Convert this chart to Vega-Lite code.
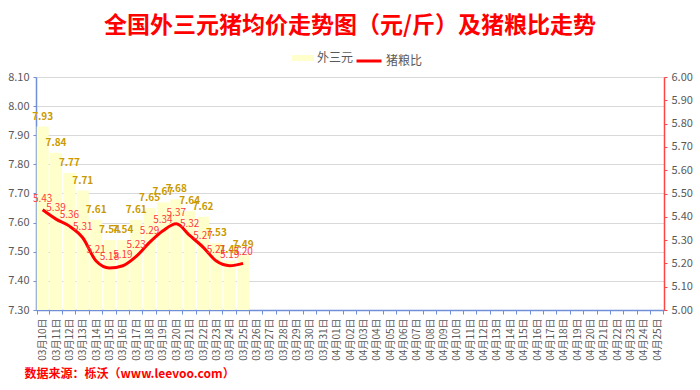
{
  "$schema": "https://vega.github.io/schema/vega-lite/v6.json",
  "width": 628,
  "height": 233,
  "autosize": {"type": "none"},
  "padding": {"left": 36, "top": 77, "right": 36, "bottom": 80},
  "background": "white",
  "config": {
    "font": "Noto Sans CJK SC",
    "view": {"stroke": null},
    "axis": {"labelColor": "#595959", "labelFont": "Noto Sans CJK SC"}
  },
  "title": {
    "text": "全国外三元猪均价走势图（元/斤）及猪粮比走势",
    "color": "#ff0000",
    "fontSize": 23,
    "fontWeight": "bold",
    "anchor": "middle",
    "frame": "group",
    "offset": 9
  },
  "data": {
    "values": [
      {"date": "03月10日", "price": 7.93, "ratio": 5.43, "s1": "外三元", "s2": "猪粮比"},
      {"date": "03月11日", "price": 7.84, "ratio": 5.39, "s1": "外三元", "s2": "猪粮比"},
      {"date": "03月12日", "price": 7.77, "ratio": 5.36, "s1": "外三元", "s2": "猪粮比"},
      {"date": "03月13日", "price": 7.71, "ratio": 5.31, "s1": "外三元", "s2": "猪粮比"},
      {"date": "03月14日", "price": 7.61, "ratio": 5.21, "s1": "外三元", "s2": "猪粮比"},
      {"date": "03月15日", "price": 7.54, "ratio": 5.18, "s1": "外三元", "s2": "猪粮比"},
      {"date": "03月16日", "price": 7.54, "ratio": 5.19, "s1": "外三元", "s2": "猪粮比"},
      {"date": "03月17日", "price": 7.61, "ratio": 5.23, "s1": "外三元", "s2": "猪粮比"},
      {"date": "03月18日", "price": 7.65, "ratio": 5.29, "s1": "外三元", "s2": "猪粮比"},
      {"date": "03月19日", "price": 7.67, "ratio": 5.34, "s1": "外三元", "s2": "猪粮比"},
      {"date": "03月20日", "price": 7.68, "ratio": 5.37, "s1": "外三元", "s2": "猪粮比"},
      {"date": "03月21日", "price": 7.64, "ratio": 5.32, "s1": "外三元", "s2": "猪粮比"},
      {"date": "03月22日", "price": 7.62, "ratio": 5.27, "s1": "外三元", "s2": "猪粮比"},
      {"date": "03月23日", "price": 7.53, "ratio": 5.21, "s1": "外三元", "s2": "猪粮比"},
      {"date": "03月24日", "price": 7.47, "ratio": 5.19, "s1": "外三元", "s2": "猪粮比"},
      {"date": "03月25日", "price": 7.49, "ratio": 5.20, "s1": "外三元", "s2": "猪粮比"}
    ]
  },
  "encoding": {
    "x": {
      "field": "date",
      "type": "ordinal",
      "sort": null,
      "scale": {
        "domain": ["03月10日","03月11日","03月12日","03月13日","03月14日","03月15日","03月16日","03月17日","03月18日","03月19日","03月20日","03月21日","03月22日","03月23日","03月24日","03月25日","03月26日","03月27日","03月28日","03月29日","03月30日","03月31日","04月01日","04月02日","04月03日","04月04日","04月05日","04月06日","04月07日","04月08日","04月09日","04月10日","04月11日","04月12日","04月13日","04月14日","04月15日","04月16日","04月17日","04月18日","04月19日","04月20日","04月21日","04月22日","04月23日","04月24日","04月25日"],
        "paddingInner": 0.1,
        "paddingOuter": 0.05
      },
      "axis": {
        "title": "数据来源：栎沃（www.leevoo.com）",
        "titleColor": "#ff0000",
        "titleFontSize": 12,
        "titleFontWeight": "bold",
        "titleAnchor": "start",
        "titleAlign": "left",
        "titleBaseline": "middle",
        "titleX": -12,
        "titleY": 63,
        "labelAngle": -90,
        "labelFontSize": 10,
        "labelPadding": 4,
        "labelOverlap": false,
        "domainColor": "#6f8fd8",
        "domainWidth": 1.5,
        "tickColor": "#6f8fd8",
        "tickSize": 4,
        "tickBand": "extent",
        "grid": false
      }
    }
  },
  "layer": [
    {
      "encoding": {
        "y": {
          "field": "price",
          "type": "quantitative",
          "scale": {"domain": [7.3, 8.1], "zero": false, "nice": false},
          "axis": {
            "title": null,
            "orient": "left",
            "values": [7.3, 7.4, 7.5, 7.6, 7.7, 7.8, 7.9, 8.0, 8.1],
            "format": ".2f",
            "labelFontSize": 11,
            "labelPadding": 4,
            "labelOverlap": false,
            "labelFlush": false,
            "domainColor": "#6f8fd8",
            "domainWidth": 1.5,
            "tickColor": "#6f8fd8",
            "tickSize": 3,
            "grid": true,
            "gridColor": "#d9d9d9",
            "gridWidth": 1
          }
        }
      },
      "layer": [
        {
          "mark": {"type": "bar", "color": "#ffffcc"},
          "encoding": {
            "y2": {"datum": 7.3},
            "fill": {
              "field": "s1",
              "type": "nominal",
              "scale": {"domain": ["外三元"], "range": ["#ffffcc"]},
              "legend": {
                "title": null,
                "orient": "none",
                "legendX": 256,
                "legendY": -30,
                "labelFontSize": 12,
                "labelColor": "#595959",
                "symbolType": "M-1,-0.27L1,-0.27L1,0.27L-1,0.27Z",
                "symbolSize": 484,
                "symbolStrokeWidth": 0,
                "labelOffset": 3
              }
            }
          }
        },
        {
          "mark": {"type": "text", "color": "#c99a00", "fontWeight": "bold", "fontSize": 10, "dy": -10},
          "encoding": {
            "text": {"field": "price", "type": "quantitative", "format": ".2f"}
          }
        }
      ]
    },
    {
      "encoding": {
        "y": {
          "field": "ratio",
          "type": "quantitative",
          "scale": {"domain": [5.0, 6.0], "zero": false, "nice": false},
          "axis": {
            "title": null,
            "orient": "right",
            "values": [5.0, 5.1, 5.2, 5.3, 5.4, 5.5, 5.6, 5.7, 5.8, 5.9, 6.0],
            "format": ".2f",
            "labelFontSize": 11,
            "labelPadding": 4,
            "labelOverlap": false,
            "labelFlush": false,
            "domainColor": "#ff4444",
            "domainWidth": 1.5,
            "tickColor": "#ff4444",
            "tickSize": 3,
            "grid": false
          }
        }
      },
      "layer": [
        {
          "mark": {"type": "line", "color": "#ff0000", "strokeWidth": 3, "interpolate": "monotone"},
          "encoding": {
            "stroke": {
              "field": "s2",
              "type": "nominal",
              "scale": {"domain": ["猪粮比"], "range": ["#ff0000"]},
              "legend": {
                "title": null,
                "orient": "none",
                "legendX": 319,
                "legendY": -30,
                "labelFontSize": 12,
                "labelColor": "#595959",
                "symbolType": "stroke",
                "symbolSize": 625,
                "symbolStrokeWidth": 3,
                "labelOffset": 3
              }
            }
          }
        },
        {
          "mark": {"type": "text", "color": "#ff3b3b", "fontSize": 10, "dy": -11},
          "encoding": {
            "text": {"field": "ratio", "type": "quantitative", "format": ".2f"}
          }
        }
      ]
    }
  ],
  "resolve": {"scale": {"y": "independent"}}
}
